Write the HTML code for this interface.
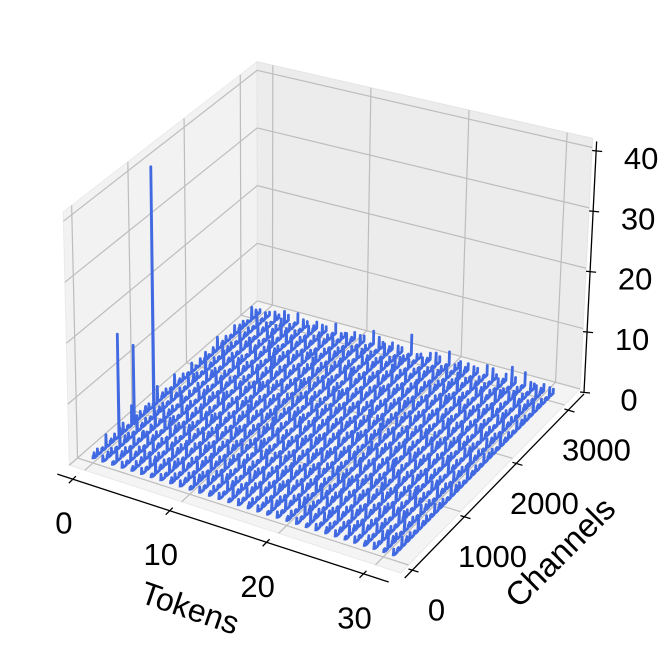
<!DOCTYPE html>
<html><head><meta charset="utf-8">
<style>
html,body{margin:0;padding:0;background:#fff;}
svg{display:block;}
text{font-family:"Liberation Sans","DejaVu Sans",sans-serif;fill:#000;}
</style></head>
<body>
<svg id="chart" width="664" height="648" viewBox="0 0 664 648" xmlns="http://www.w3.org/2000/svg">
<g id="panes"></g>
<g id="grid"></g>
<g id="series"></g>
<g id="axes"></g>
</svg>
<script>
// ---- data ----
const tokenTicks = [0, 10, 20, 30];
const channelTicks = [0, 1000, 2000, 3000];
const zTicks = [0, 10, 20, 30, 40];
const channelCount = 3071;
// per-token activation magnitude samples (digit * 0.55), 40 samples across channels
const tokenRows = [
"2325232427232326232523242322352324232532",
"3232523262324232523242327232423252324232",
"2423252323624232523232423262324232523242",
"3252324232523272324232523242326232423252",
"2324252324232623242325232423252324272324",
"3242325232423262324232523242325232623242",
"2523242325232423272324232523242325232423",
"3242326232423252324232523282324232523242",
"2325232423262324232523242325232423262324",
"3232423252324232723242325232423252324232",
"2423262324232523242325232423272324232523",
"3252324232523242326232423252324232523242",
"2324232523242327232423252324232623242325",
"3242325232423252324232623242325232423252",
"2523242326232423252324232523272324232523",
"3242325232423252326232423252324232523242",
"2325232423252324232623242325232423252327",
"3232423262324232523242325232423272324232",
"2423252324232523262324232523242325232423",
"3252324232523242325232723242325232423252",
"2324232623242325232423252324232623242325",
"3242325232423252324272324232523242325232",
"2523242325232623242325232423252324232623",
"3242326232423252324232523242325232723242",
"2325232423252324232623242325232423252324",
"3232423252324272324232523242326232423252",
"2423252324232523242325232623242325232423",
"3252324232623242325232423252324232523272",
"2324232523242325232423262324232523242325",
"3242325232723242325232423252324232623242",
"2523262324232523242325232423252324232523",
"3242325232423252326232423252324232523242"
];
// massive activations
const spikeTokens = [0, 0, 0];
const spikeChannels = [480, 760, 1120];
const spikeValues = [17.5, 13.5, 40.5];

// ---- projection ----
const tMin=-1.6, tMax=32.6, cMin=-150, cMax=3300, zMin=0, zMax=41.5;
const A00=[93,463], A10=[393,560], A11=[553,397], A01=[260,316];
const U00=[-0.12,-6.1], U10=[0.3,-6.4], U11=[0.29,-6.05], U01=[0,-5.8];
function bil(p00,p10,p11,p01,u,v){
  return [p00[0]*(1-u)*(1-v)+p10[0]*u*(1-v)+p11[0]*u*v+p01[0]*(1-u)*v,
          p00[1]*(1-u)*(1-v)+p10[1]*u*(1-v)+p11[1]*u*v+p01[1]*(1-u)*v];
}
function P(t,c,z){
  const u=t/31, v=c/channelCount;
  const b=bil(A00,A10,A11,A01,u,v), up=bil(U00,U10,U11,U01,u,v);
  return [b[0]+z*up[0], b[1]+z*up[1]];
}
const NS="http://www.w3.org/2000/svg";
function mk(parent,tag,attrs){const e=document.createElementNS(NS,tag);for(const k in attrs)e.setAttribute(k,attrs[k]);parent.appendChild(e);return e;}
function pts(arr){return arr.map(p=>p[0].toFixed(1)+","+p[1].toFixed(1)).join(" ");}

// panes
const panes=document.getElementById('panes');
let e;
e=mk(panes,'polygon',{points:pts([P(tMin,cMin,zMin),P(tMax,cMin,zMin),P(tMax,cMax,zMin),P(tMin,cMax,zMin)]),fill:'#f4f4f4',stroke:'#e8e8e8'});


e=mk(panes,'polygon',{points:pts([P(tMin,cMin,zMin),P(tMin,cMax,zMin),P(tMin,cMax,zMax),P(tMin,cMin,zMax)]),fill:'#f2f2f2',stroke:'#eaeaea'});


e=mk(panes,'polygon',{points:pts([P(tMin,cMax,zMin),P(tMax,cMax,zMin),P(tMax,cMax,zMax),P(tMin,cMax,zMax)]),fill:'#ececec',stroke:'#e4e4e4'});



// grid
const grid=document.getElementById('grid');
function gl(a,b,name){const l=mk(grid,'line',{x1:a[0],y1:a[1],x2:b[0],y2:b[1],stroke:'#bdbdbd','stroke-width':1.2});

}
tokenTicks.forEach(t=>{gl(P(t,cMin,zMin),P(t,cMax,zMin),'floor-grid-token');gl(P(t,cMax,zMin),P(t,cMax,zMax),'wall-grid-token');});
channelTicks.forEach(c=>{gl(P(tMin,c,zMin),P(tMax,c,zMin),'floor-grid-channel');gl(P(tMin,c,zMin),P(tMin,c,zMax),'wall-grid-channel');});
zTicks.forEach(z=>{gl(P(tMin,cMin,z),P(tMin,cMax,z),'left-wall-grid-z');gl(P(tMin,cMax,z),P(tMax,cMax,z),'back-wall-grid-z');});

// series
const series=document.getElementById('series');
tokenRows.forEach((row,t)=>{
  const list=[];
  for(let k=0;k<row.length;k++){
    const c=k*channelCount/(row.length-1);
    list.push([c,0.6],[c+6,parseInt(row[k])*0.55],[c+12,0.9],[c+24,0.5+parseInt(row[(k+3)%row.length])*0.2],[c+36,0.6]);
  }
  spikeTokens.forEach((st,i)=>{ if(st===t){ list.push([spikeChannels[i]-4,0.5],[spikeChannels[i],spikeValues[i]],[spikeChannels[i]+4,0.5]); }});
  list.sort((a,b)=>a[0]-b[0]);
  const p=mk(series,'polyline',{points:pts(list.map(q=>P(t,Math.min(q[0],channelCount),q[1]))),fill:'none',stroke:'#4169e1','stroke-width':2.8,'stroke-linejoin':'round'});
  
  
});

// axes
const axes=document.getElementById('axes');
function al(a,b,name){const l=mk(axes,'line',{x1:a[0],y1:a[1],x2:b[0],y2:b[1],stroke:'#000','stroke-width':1.3});

}
function tx(x,y,s,name,size,rot){const t=mk(axes,'text',{x:x,y:y,'font-size':size,'text-anchor':'middle','dominant-baseline':'central'});
if(rot)t.setAttribute('transform','rotate('+rot+' '+x+' '+y+')');t.textContent=s;

}
// token axis
const tOff=[-12,9];
function tokAx(t){const p=P(t,cMin,zMin);return [p[0]+tOff[0],p[1]+tOff[1]];}
al(tokAx(tMin),tokAx(tMax),'tokens-axis-line');
tokenTicks.forEach(t=>{const p=tokAx(t);al([p[0]+3,p[1]-3],[p[0]-4,p[1]+4],'tokens-tick');
  tx(p[0]-9,p[1]+44,String(t),'tokens-tick-label',31);});
tx(190,608,'Tokens','tokens-axis-title',32,19);
// channel axis
function chAx(c){const p=P(tMax,c,zMin);return [p[0]+4,p[1]+5];}
al(chAx(cMin),chAx(cMax),'channels-axis-line');
channelTicks.forEach(c=>{const p=chAx(c);al([p[0]-4,p[1]-1],[p[0]+6,p[1]+2],'channels-tick');
  tx(p[0]+24+(c===0?0:String(c).length*1),p[1]+40,String(c),'channels-tick-label',31);});
tx(560,552,'Channels','channels-axis-title',33,-45);
// z axis
function zAx(z){const p=P(tMax,cMax,z);return [p[0]+4,p[1]+3];}
al(zAx(zMin),zAx(zMax),'z-axis-line');
zTicks.forEach(z=>{const p=zAx(z);al([p[0]-4,p[1]],[p[0]+6,p[1]+1],'z-tick');
  tx(p[0]+45,p[1]+8,String(z),'z-tick-label',31);});
</script>
</body></html>
